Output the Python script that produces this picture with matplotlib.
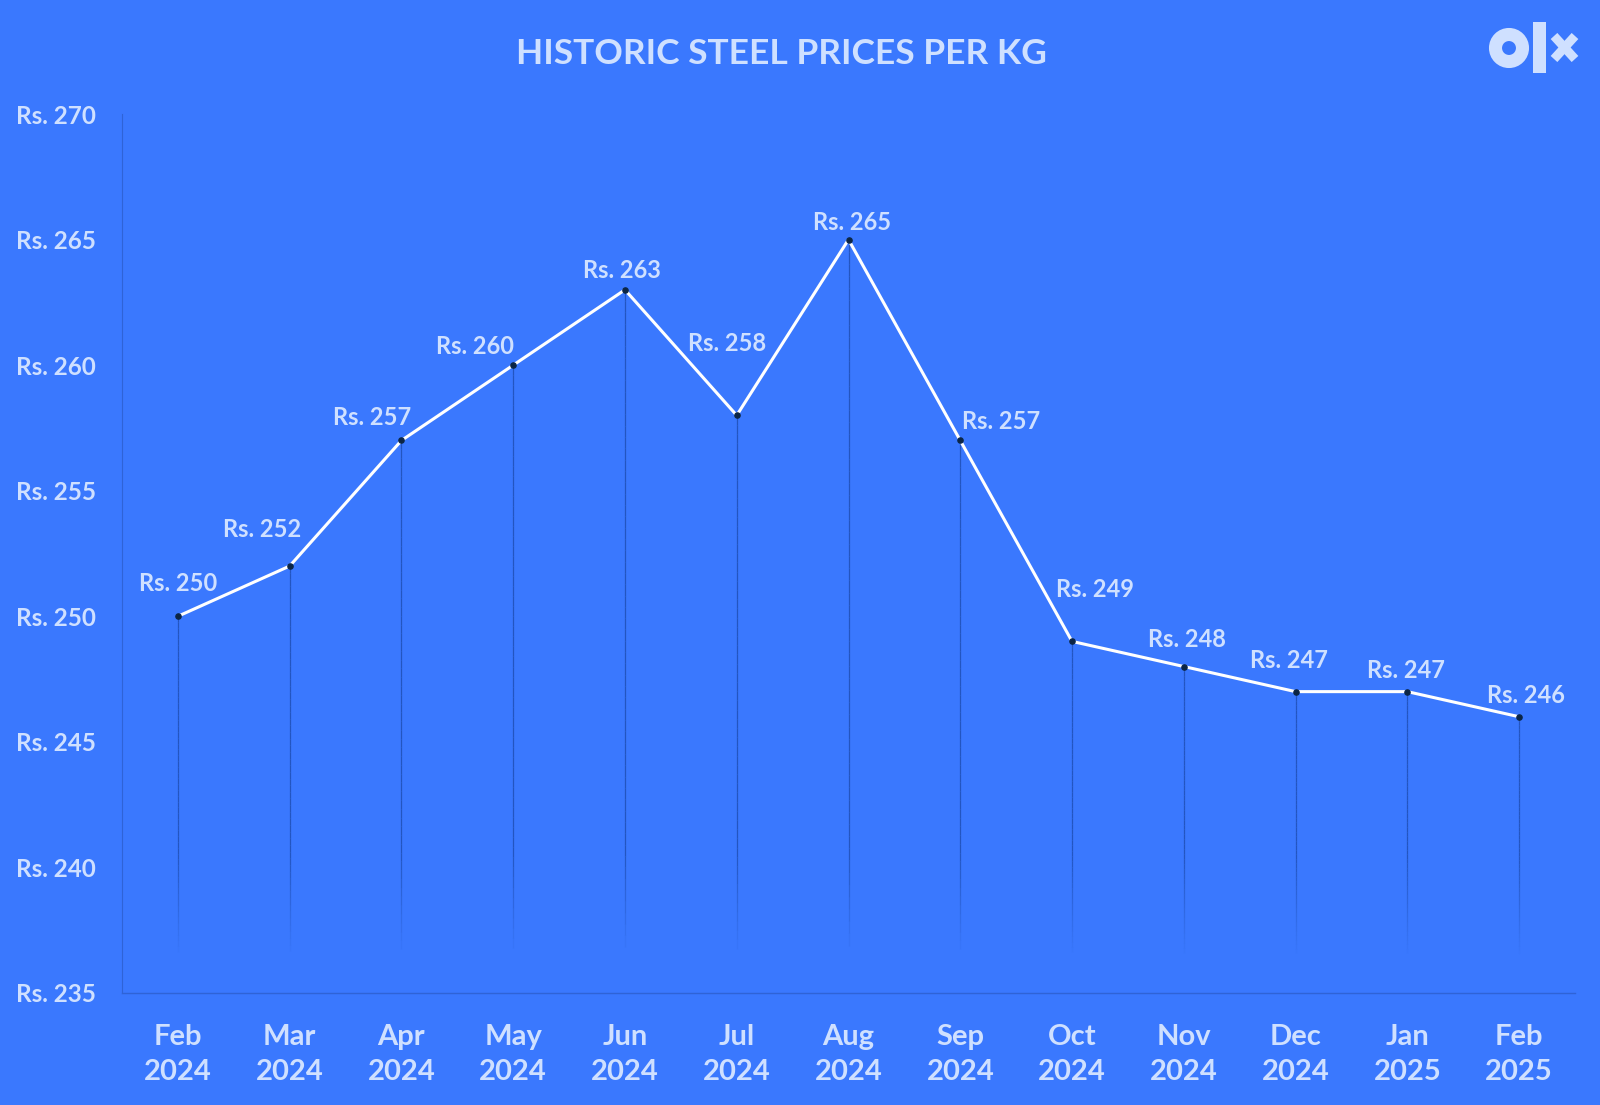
import matplotlib
matplotlib.use("agg")
import matplotlib.pyplot as plt
from matplotlib.patches import Circle, Rectangle
from matplotlib.lines import Line2D
from matplotlib.collections import LineCollection
import numpy as np

# data
months = ["Feb\n2024", "Mar\n2024", "Apr\n2024", "May\n2024", "Jun\n2024", "Jul\n2024",
          "Aug\n2024", "Sep\n2024", "Oct\n2024", "Nov\n2024", "Dec\n2024", "Jan\n2025", "Feb\n2025"]
prices = [250, 252, 257, 260, 263, 258, 265, 257, 249, 248, 247, 247, 246]
yticks = [235, 240, 245, 250, 255, 260, 265, 270]

# label offsets in pixels (dx, dy), as placed in the original
label_off = [(0, 33), (-28, 37), (-29, 23), (-38, 19), (-3, 19), (-10, 72), (4, 17),
             (41, 19), (23, 52), (3, 27), (-7, 31), (-1, 21), (7, 21)]

BG = "#3a78fe"
TXT = "#cfe0ff"

plt.rcParams["font.family"] = ["Lato", "DejaVu Sans"]
plt.rcParams["font.weight"] = "bold"

fig = plt.figure(figsize=(16, 11.05), dpi=100, facecolor=BG)
ax = fig.add_axes([122 / 1600, 1 - 993 / 1105, (1575 - 122) / 1600, (993 - 114) / 1105])
ax.set_facecolor(BG)

x = np.arange(len(prices))

# drop lines fading out near the bottom
for xi, p in zip(x, prices):
    ys = np.linspace(236.4, p, 60)
    segs = [[(xi, ys[i]), (xi, ys[i + 1])] for i in range(len(ys) - 1)]
    alphas = np.clip((ys[:-1] - 236.4) / 4.0, 0, 1) * 0.7
    cols = [(0.10, 0.28, 0.65, a) for a in alphas]
    ax.add_collection(LineCollection(segs, colors=cols, linewidths=0.9, zorder=1))

ax.plot(x, prices, color="white", lw=2.2, zorder=3)
ax.scatter(x, prices, s=14, color="#0b2545", zorder=4)

for xi, p, (dx, dy) in zip(x, prices, label_off):
    ax.annotate(f"Rs. {p}", (xi, p), xytext=(dx, dy), textcoords="offset pixels",
                ha="center", va="center", fontsize=17, fontweight="bold", color=TXT, zorder=5)

ax.set_xlim(-0.5, 12.5)
ax.set_ylim(235, 270)
ax.set_xticks(x)
ax.set_xticklabels(months, fontsize=21, fontweight="bold", color=TXT, linespacing=1.45)
ax.set_yticks(yticks)
ax.set_yticklabels([f"Rs. {v}" for v in yticks], fontsize=17.5, fontweight="bold", color=TXT)
ax.tick_params(axis="both", length=0)
ax.tick_params(axis="x", pad=22)
for lab in ax.get_yticklabels():
    lab.set_horizontalalignment("left")
    lab.set_x(-122 / 1453 + 21 / 1453)

for s in ["top", "right"]:
    ax.spines[s].set_visible(False)
ax.spines["left"].set_color("#2f63d6")
ax.spines["bottom"].set_color("#2f63d6")
ax.spines["left"].set_linewidth(0.8)
ax.spines["bottom"].set_linewidth(1.0)

fig.text(781 / 1600, 1 - 54 / 1105, "HISTORIC STEEL PRICES PER KG", ha="center", va="center",
         fontsize=25.5, fontweight="bold", color=TXT)

# olx logo
tr = fig.dpi_scale_trans
fig.add_artist(Circle((15.09, (1105 - 48) / 100), 0.135, transform=tr, fill=False,
                      edgecolor=TXT, linewidth=9.4))
fig.add_artist(Rectangle((15.33, (1105 - 73) / 100), 0.13, 0.51, transform=tr,
                         facecolor=TXT, edgecolor="none"))
fig.add_artist(Line2D([15.54, 15.75], [(1105 - 36) / 100, (1105 - 59) / 100], transform=tr,
                      color=TXT, lw=6.5, solid_capstyle="butt"))
fig.add_artist(Line2D([15.54, 15.75], [(1105 - 59) / 100, (1105 - 36) / 100], transform=tr,
                      color=TXT, lw=6.5, solid_capstyle="butt"))

plt.savefig("out.png", dpi=100, facecolor=BG)
